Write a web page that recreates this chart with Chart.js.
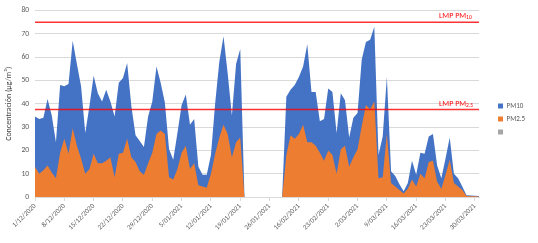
<!DOCTYPE html>
<html>
<head>
<meta charset="utf-8">
<script src="https://cdn.jsdelivr.net/npm/chart.js@4"></script>
<style>
  html, body { margin: 0; padding: 0; background: #fff; }
  #wrap { width: 538px; height: 243px; }
</style>
</head>
<body>
<div id="wrap"><canvas id="chart1"></canvas></div>
<script>
// categories: daily samples, with a jump from 1/02 to 16/02/2021
const dateRanges = [['2020-12-01', 63], ['2021-02-16', 44]];
const tickLabels = ['1/12/2020', '8/12/2020', '15/12/2020', '22/12/2020', '29/12/2020', '5/01/2021',
    '12/01/2021', '19/01/2021', '26/01/2021', '16/02/2021', '23/02/2021', '2/03/2021',
    '9/03/2021', '16/03/2021', '23/03/2021', '30/03/2021'];

const pm10 = [34.5, 33.5, 34, 42, 35, 23.5, 48, 47.5, 48.5, 67, 57, 47.5, 27.5, 39, 52, 44.5, 41, 46,
    41, 34.5, 49, 51, 57.5, 39, 26.5, 24, 21.5, 34.5, 41, 56, 49, 40.5, 20.5, 16, 27.5,
    39.5, 44, 31, 33.5, 13, 9.5, 9.5, 18, 40, 58, 69, 53, 35, 57, 63.5,
    0, 0, 0, 0, 0, 0, 0, 0, 0, 0,
    43, 46, 48, 51.5, 56, 65.5, 45, 45, 32.5, 33.5,
    46.5, 45, 27.5, 44.5, 41.5, 25.5, 34, 36, 59, 66.5, 67.5, 73, 18, 26, 51.5, 11, 9, 5.5,
    2.5, 6, 15.5, 9.5, 19, 18.5, 26, 27, 13.5, 8, 16.5, 25.5, 10, 8, 4.5, 0.8, 0.6, 0.5, 0.4];

const pm25 = [13, 10, 11.5, 13.5, 10.5, 8, 19, 25, 18.5, 29.5, 22, 16.5, 10, 12, 18.5, 14.5, 14.5, 15.5,
    17, 8.5, 18.5, 19, 25, 17, 15, 11, 9.5, 14.5, 19, 27, 28.5, 27, 8.5, 7.5, 12,
    19, 22, 12, 14.5, 5, 4.5, 4, 10, 18.5, 25.5, 31, 27, 17, 23.5, 25.5,
    0, 0, 0, 0, 0, 0, 0, 0, 0, 0,
    18, 26.5, 25, 27, 31, 23.5, 23.5, 22, 19, 15.5,
    20, 18, 10, 20.5, 22, 13, 17, 20.5, 30.5, 39.5, 37.5, 41, 8, 8.5, 27, 6, 4.5, 3,
    1.5, 3.5, 7.5, 4.5, 10, 8, 15, 15.5, 6.5, 3.5, 9.5, 16, 6, 4.5, 3, 0.4, 0.3, 0.3, 0.2];

// limits (LMP) drawn as horizontal red lines
const limitValues = [75, 37.5];
const limitNames = [['LMP PM', '10'], ['LMP PM', '2.5']];

const FONT = 'Calibri, Lato, "Liberation Sans", sans-serif';

function buildDates() {
    const out = [];
    dateRanges.forEach(([start, n]) => {
        const d = new Date(start + 'T00:00:00');
        for (let i = 0; i < n; i++) {
            const dd = d.getDate();
            const mm = String(d.getMonth() + 1).padStart(2, '0');
            out.push(dd + '/' + mm + '/' + d.getFullYear());
            d.setDate(d.getDate() + 1);
        }
    });
    return out;
}
const labels = buildDates();

const limitLines = {
    id: 'limitLines',
    afterDatasetsDraw(chart) {
        const { ctx, chartArea, scales } = chart;
        ctx.save();
        limitValues.forEach((v, i) => {
            const y = scales.y.getPixelForValue(v);
            ctx.strokeStyle = 'rgba(255, 0, 0, 0.8)';
            ctx.lineWidth = 1.5;
            ctx.beginPath();
            ctx.moveTo(chartArea.left, y);
            ctx.lineTo(chartArea.right, y);
            ctx.stroke();
            const [main, sub] = limitNames[i];
            ctx.fillStyle = '#ff0000';
            ctx.textBaseline = 'alphabetic';
            ctx.textAlign = 'left';
            ctx.font = '8px ' + FONT;
            const x = 439;
            ctx.fillText(main, x, y - 4);
            const w = ctx.measureText(main).width;
            ctx.font = '5.5px ' + FONT;
            ctx.fillText(sub, x + w, y - 3);
        });
        ctx.restore();
    }
};

// nudge the legend a bit right and up, like the original
const legendNudge = {
    id: 'legendNudge',
    afterLayout(chart) {
        const lg = chart.legend;
        if (!lg) return;
        lg.left += 13; lg.right += 13;
        lg.top -= 6; lg.bottom -= 6;
    }
};

document.addEventListener('DOMContentLoaded', () => {
    const ctx1 = document.getElementById('chart1').getContext('2d');
    new Chart(ctx1, {
        type: 'line',
        data: {
            labels: labels,
            datasets: [{
                label: 'PM10',
                data: pm10,
                backgroundColor: '#4472C4',
                borderColor: '#4472C4',
                borderWidth: 0,
                pointRadius: 0,
                fill: 'origin',
                order: 1
            }, {
                label: 'PM2.5',
                data: pm25,
                backgroundColor: '#ED7D31',
                borderColor: '#ED7D31',
                borderWidth: 0,
                pointRadius: 0,
                fill: 'origin',
                order: 0
            }, {
                label: '',
                data: [],
                backgroundColor: '#A5A5A5',
                borderColor: '#A5A5A5',
                borderWidth: 0,
                pointRadius: 0,
                order: 2
            }]
        },
        options: {
            responsive: true,
            maintainAspectRatio: false,
            animation: false,
            layout: { padding: { left: 4, top: 7, right: 16, bottom: 0 } },
            scales: {
                x: {
                    offset: false,
                    grid: {
                        drawOnChartArea: false,
                        tickLength: 4,
                        color: (c) => (c.index % 7 === 0 ? '#d9d9d9' : 'rgba(0,0,0,0)')
                    },
                    border: { color: '#d9d9d9' },
                    ticks: {
                        autoSkip: false,
                        maxRotation: 45,
                        minRotation: 45,
                        padding: 1,
                        color: '#595959',
                        font: { size: 7, family: FONT },
                        callback: (v, i) => (i % 7 === 0 ? tickLabels[i / 7] : '')
                    },
                    afterFit: (s) => { s.height = 46; }
                },
                y: {
                    min: 0,
                    max: 80,
                    ticks: { stepSize: 10, color: '#595959', padding: 6, font: { size: 7.5, family: FONT } },
                    grid: { color: '#d9d9d9', drawTicks: false },
                    border: { display: false },
                    title: {
                        display: true,
                        text: 'Concentración (µg/m³)',
                        color: '#404040',
                        font: { size: 8, family: FONT },
                        padding: { top: 0, bottom: 2 }
                    },
                    afterFit: (s) => { s.width = 31; }
                }
            },
            plugins: {
                legend: {
                    position: 'right',
                    labels: {
                        boxWidth: 5,
                        boxHeight: 5,
                        padding: 6,
                        color: '#595959',
                        font: { size: 7, family: FONT },
                        sort: (a, b) => a.datasetIndex - b.datasetIndex
                    }
                },
                tooltip: { enabled: false }
            }
        },
        plugins: [limitLines, legendNudge]
    });
});
</script>
</body>
</html>
